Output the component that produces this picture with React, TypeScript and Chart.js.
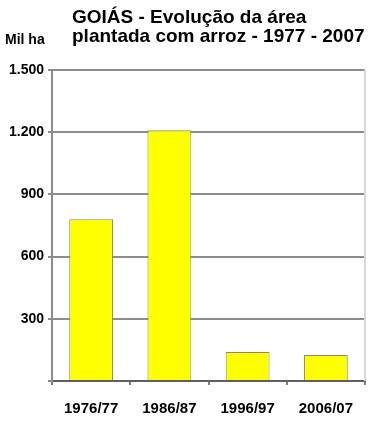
import React, { useEffect, useRef } from "react";
import { Chart, registerables } from "chart.js";

Chart.register(...registerables);

const categories = ["1976/77", "1986/87", "1996/97", "2006/07"];
const areaValues = [780, 1210, 140, 125];
const yTicks = [0, 300, 600, 900, 1200, 1500];
const titleLines = ["GOIÁS - Evolução da área", "plantada com arroz - 1977 - 2007"];
const yUnit = "Mil ha";

const FONT = "'Liberation Sans', Arial, sans-serif";

const fmt = (v: number) => {
  if (v === 0) return "";
  const s = String(v);
  return s.length > 3 ? s.slice(0, s.length - 3) + "." + s.slice(-3) : s;
};

export default function App() {
  const ref = useRef<HTMLCanvasElement>(null);
  useEffect(() => {
    if (!ref.current) return;
    const decor = {
      id: "decor",
      afterDraw(chart: any) {
        const ctx = chart.ctx;
        const a = chart.chartArea;
        ctx.save();
        ctx.strokeStyle = "#d8d8d8";
        ctx.lineWidth = 2;
        ctx.beginPath();
        ctx.moveTo(a.right, a.top);
        ctx.lineTo(a.right, a.bottom);
        ctx.stroke();
        ctx.fillStyle = "#000";
        ctx.textBaseline = "alphabetic";
        ctx.textAlign = "left";
        ctx.font = `bold 19px ${FONT}`;
        ctx.fillText(titleLines[0], 72, 23);
        ctx.fillText(titleLines[1], 72, 42);
        ctx.font = `bold 14px ${FONT}`;
        ctx.fillText(yUnit, 5, 44);
        ctx.restore();
      },
    };
    const chart = new Chart(ref.current, {
      type: "bar",
      data: {
        labels: categories,
        datasets: [
          {
            data: areaValues,
            backgroundColor: "#ffff00",
            borderColor: "#8a8a6a",
            borderWidth: 1,
            categoryPercentage: 1,
            barPercentage: 0.56,
          },
        ],
      },
      options: {
        animation: false,
        responsive: false,
        maintainAspectRatio: false,
        layout: { padding: { top: 70, right: 18, bottom: 0, left: 0 } },
        plugins: { legend: { display: false }, tooltip: { enabled: false }, title: { display: false } },
        scales: {
          x: {
            afterFit: (s: any) => { s.height = 42; },
            grid: { drawOnChartArea: false, drawTicks: true, tickLength: 4, color: "#808080", lineWidth: 2, offset: true },
            border: { color: "#606060", width: 2 },
            ticks: { color: "#000", font: { family: FONT, size: 15, weight: "bold" }, padding: 15 },
          },
          y: {
            min: 0,
            max: 1500,
            afterFit: (s: any) => { s.width = 52; },
            afterBuildTicks: (s: any) => { s.ticks = yTicks.map((v) => ({ value: v })); },
            grid: { color: "#8c8c8c", lineWidth: 2, tickLength: 4, drawTicks: true },
            border: { color: "#8c8c8c", width: 2 },
            ticks: { color: "#000", font: { family: FONT, size: 14, weight: "bold" }, padding: 4, callback: (v: any) => fmt(Number(v)) },
          },
        },
      },
      plugins: [decor],
    });
    return () => chart.destroy();
  }, []);
  return (
    <div style={{ position: "fixed", left: 0, top: 0, width: 383, height: 423, background: "#fff" }}>
      <canvas ref={ref} width={383} height={423} style={{ width: 383, height: 423 }} />
    </div>
  );
}
